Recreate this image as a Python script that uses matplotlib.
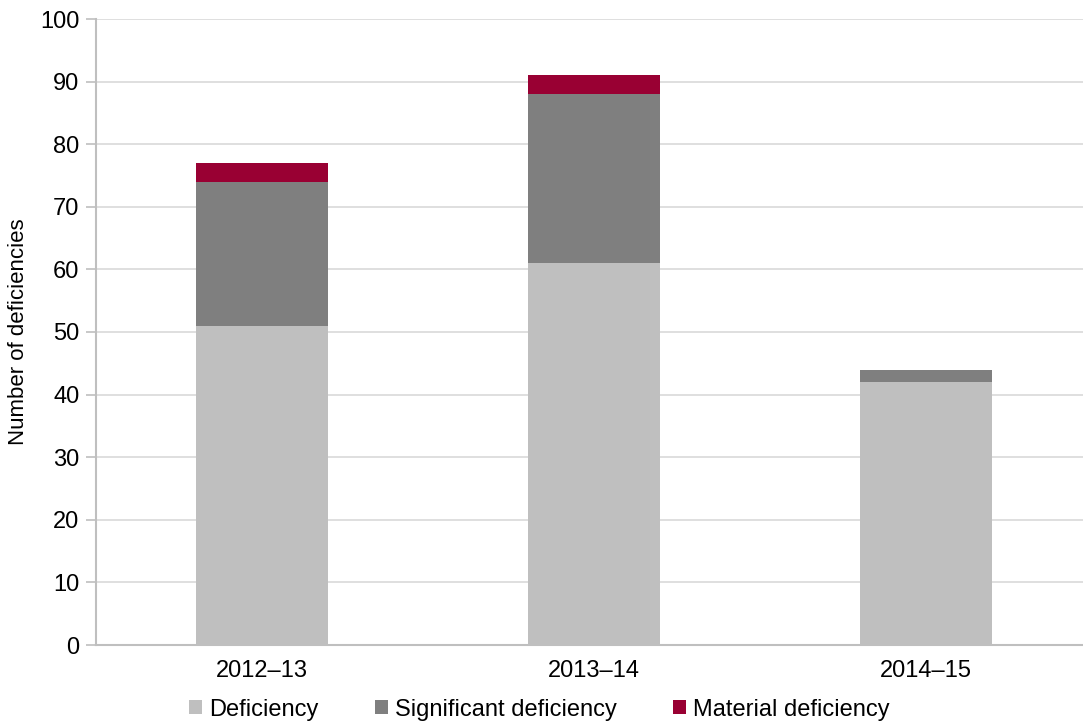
import matplotlib
matplotlib.use("Agg")
import matplotlib.pyplot as plt
import numpy as np

plt.rcParams['font.family'] = ['Liberation Sans', 'DejaVu Sans']

years = ["2012\u201313", "2013\u201314", "2014\u201315"]
deficiency = [51, 61, 42]
significant = [23, 27, 2]
material = [3, 3, 0]
series_names = ["Deficiency", "Significant deficiency", "Material deficiency"]
colors = ["#BFBFBF", "#7F7F7F", "#990033"]

W, H = 1083, 726
fig = plt.figure(figsize=(W / 100, H / 100), dpi=100)
ax = fig.add_axes([96 / W, (H - 645) / H, 996 / W, 626 / H])

x = np.arange(len(years))
bottom = np.zeros(len(years))
handles = []
for vals, name, col in zip([deficiency, significant, material], series_names, colors):
    b = ax.bar(x, vals, width=0.4, bottom=bottom, color=col, label=name, zorder=3)
    handles.append(b)
    bottom += np.array(vals)

ax.set_xlim(-0.5, 2.5)
ax.set_ylim(0, 100)
ax.set_yticks(np.arange(0, 101, 10))
ax.set_xticks(x)
ax.set_xticklabels(years)
ax.yaxis.grid(True, color="#D9D9D9", linewidth=1.2, zorder=0)
ax.set_axisbelow(True)
for s in ["top", "right"]:
    ax.spines[s].set_visible(False)
for s in ["left", "bottom"]:
    ax.spines[s].set_color("#BFBFBF")
    ax.spines[s].set_linewidth(1.5)
ax.tick_params(axis="y", length=7, color="#BFBFBF", width=1.2, labelsize=17, pad=5)
ax.tick_params(axis="x", length=0, labelsize=17, pad=11)
ax.set_ylabel("Number of deficiencies", fontsize=16, labelpad=8)

fig.legend(handles=handles, labels=series_names, loc="lower center",
           bbox_to_anchor=(0.498, -0.022), ncol=3, frameon=False, fontsize=17,
           handlelength=0.55, handleheight=0.55, handletextpad=0.3, columnspacing=2.4)

fig.savefig("out.png", dpi=100)
